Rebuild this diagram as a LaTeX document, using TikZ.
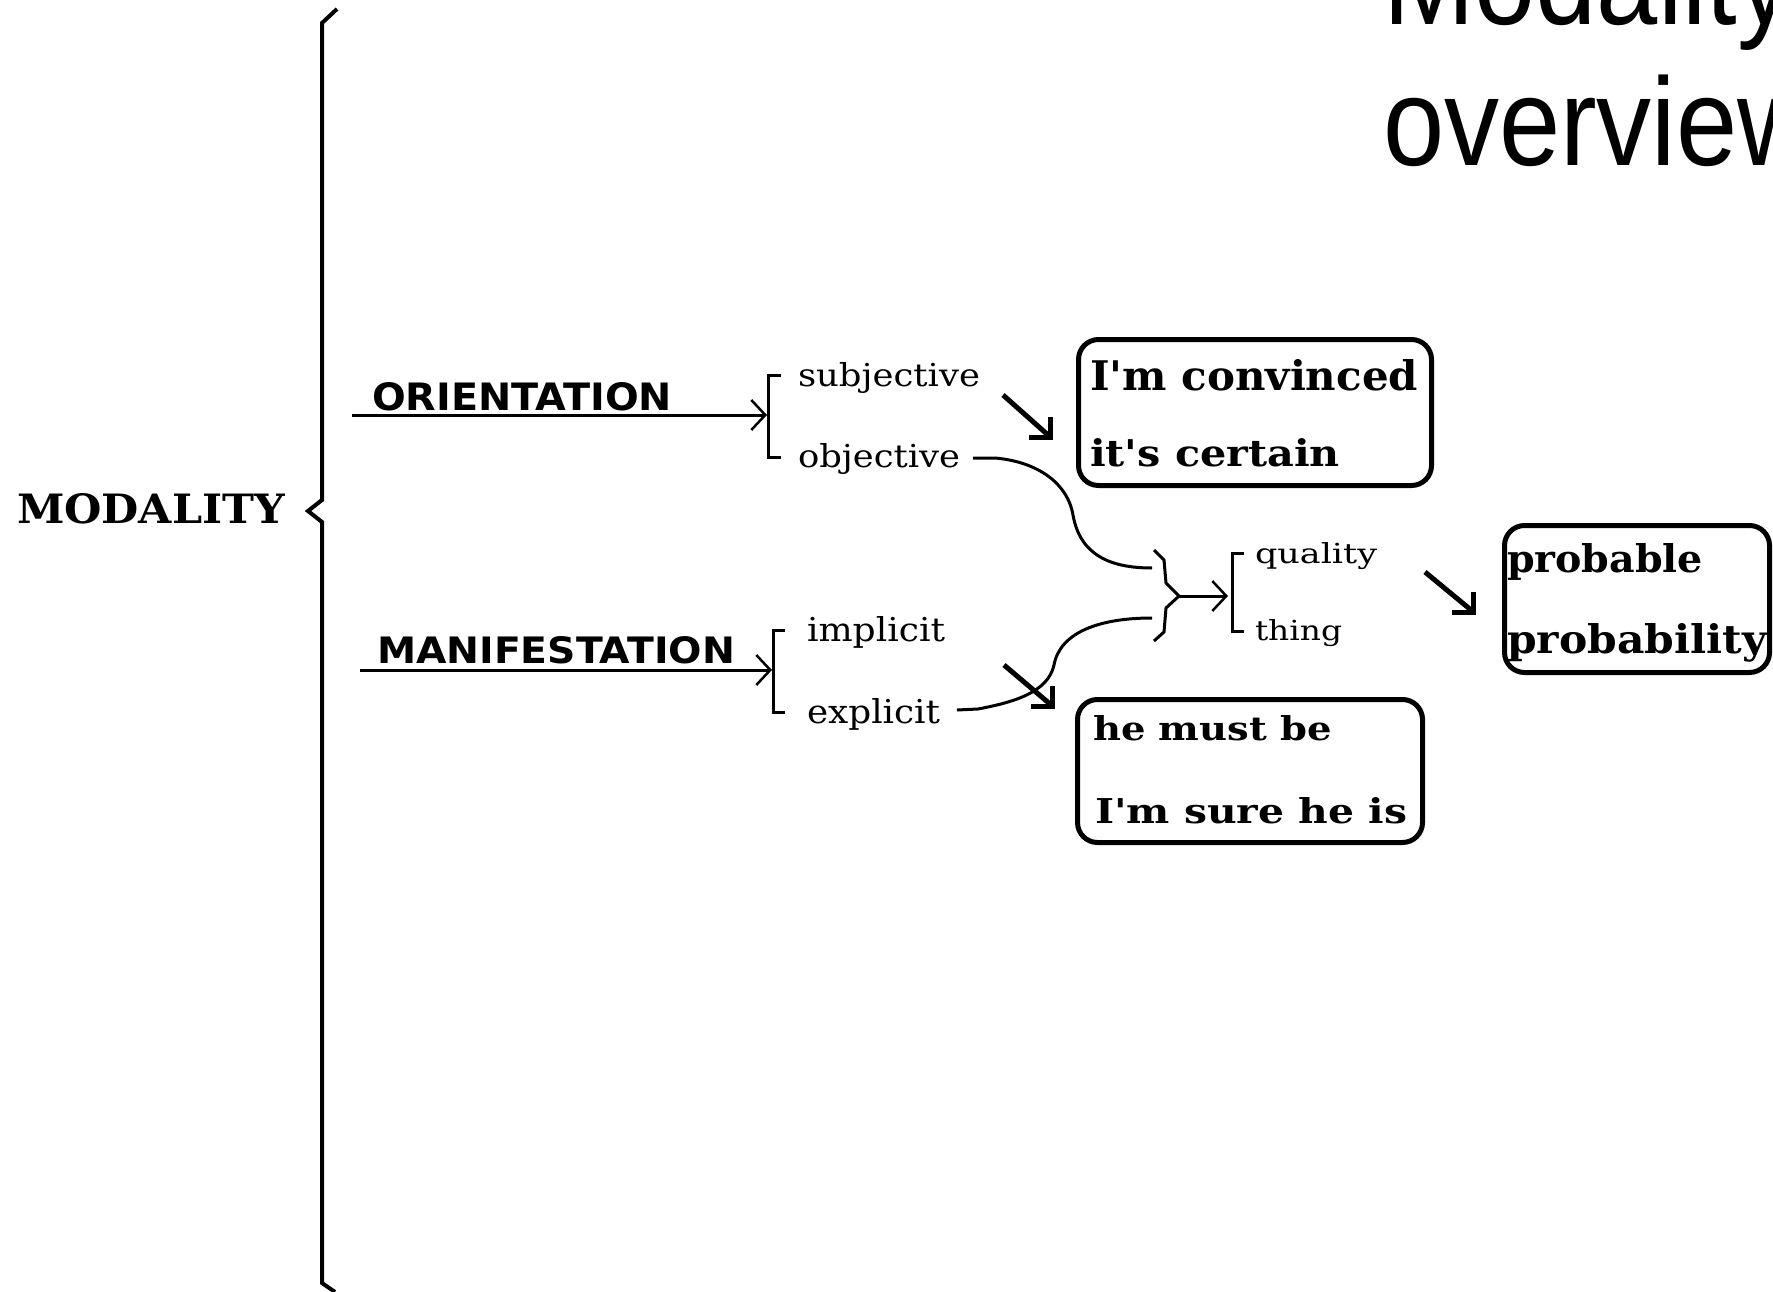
\documentclass[tikz,border=0pt]{standalone}
\usepackage{fontspec}
\usepackage{graphicx}
\usetikzlibrary{arrows.meta,calc}
\newfontfamily\titlefont{Liberation Sans}
\newfontfamily\seriffont{DejaVu Serif}
\newfontfamily\sansfont{DejaVu Sans}
\newcommand\fitt[3]{\resizebox{#1pt}{#2pt}{#3}}
\begin{document}
\begin{tikzpicture}[x=1pt,y=-1pt,
  lbl/.style={anchor=base west, inner sep=0pt, outer sep=0pt},
  thinline/.style={line width=3pt},
  thinarrow/.style={line width=3pt, -{Straight Barb[length=14pt,width=30pt,line width=2.5pt]}},
  heavyline/.style={line width=5pt},
  bracestyle/.style={line width=4pt, line join=miter},
  roundbox/.style={draw, line width=5pt, rounded corners=20pt, inner sep=0pt},
]
\fill[white] (0,0) rectangle (1773,1292);
\useasboundingbox (0,0) rectangle (1773,1292);

% title
\node[lbl] (title1) at (1383,25) {\scalebox{0.88}[1]{\titlefont\fontsize{125}{125}\selectfont Modality}};
\node[lbl] (title2) at (1383,166) {\scalebox{0.88}[1]{\titlefont\fontsize{125}{125}\selectfont overview}};

% labels
\node[lbl] (modality) at (17,523) {\fitt{268}{30}{\seriffont\bfseries MODALITY}};
\node[lbl] (orientation) at (372,410) {\fitt{300}{28}{\sansfont\bfseries ORIENTATION}};
\node[lbl] (manifestation) at (377,663) {\fitt{358}{27}{\sansfont\bfseries MANIFESTATION}};
\node[lbl] (subjective) at (798,386) {\fitt{182}{24}{\seriffont subjective}};
\node[lbl] (objective) at (798,467) {\fitt{162}{24}{\seriffont objective}};
\node[lbl] (implicit) at (807,641) {\fitt{138}{25}{\seriffont implicit}};
\node[lbl] (explicit) at (807,723) {\fitt{133}{25}{\seriffont explicit}};
\node[lbl] (quality) at (1255,563) {\fitt{122}{21}{\seriffont quality}};
\node[lbl] (thing) at (1255,640) {\fitt{87}{21}{\seriffont thing}};

% boxes
\node[roundbox, minimum width=353pt, minimum height=146pt] (box1) at (1255,412.5) {};
\node[roundbox, minimum width=345pt, minimum height=143pt] (box2) at (1250,771) {};
\node[roundbox, minimum width=265pt, minimum height=147pt] (box3) at (1637,599) {};

\node[lbl] (b1a) at (1090,390) {\fitt{328}{31}{\seriffont\bfseries I'm convinced}};
\node[lbl] (b1b) at (1090,466) {\fitt{250}{28}{\seriffont\bfseries it's certain}};
\node[lbl] (b2a) at (1093,740) {\fitt{239}{25}{\seriffont\bfseries he must be}};
\node[lbl] (b2b) at (1095,823) {\fitt{312}{26}{\seriffont\bfseries I'm sure he is}};
\node[lbl] (b3a) at (1507,572) {\fitt{196}{29}{\seriffont\bfseries probable}};
\node[lbl] (b3b) at (1507,653) {\fitt{260}{30}{\seriffont\bfseries probability}};

% main brace
\coordinate (bracetop) at (337,9);
\coordinate (bracetip) at (308,511);
\coordinate (bracebot) at (335,1292);
\draw[bracestyle] (bracetop) -- (322,23) -- (322,500) -- (bracetip) -- (322,522) -- (322,1283) -- (bracebot);

% arrows to brackets
\coordinate (oristart) at (352,415);
\coordinate (oriend) at (767,415);
\coordinate (manstart) at (360,670);
\coordinate (manend) at (772,670);
\draw[thinarrow] (oristart) -- (oriend);
\draw[thinarrow] (manstart) -- (manend);

% small brackets
\draw[thinline] (781,375) -- (768,375) -- (768,457) -- (781,457);
\draw[thinline] (785,630) -- (773,630) -- (773,712) -- (785,712);
\draw[thinline] (1244,553) -- (1232,553) -- (1232,631) -- (1244,631);

% curves into the right brace
\coordinate (objdash) at (973,458);
\coordinate (expdash) at (957,710);
\coordinate (upend) at (1152,568);
\coordinate (lowend) at (1152,618);
\draw[thinline] (objdash) -- (995,458) .. controls (1040,462) and (1068,485) .. (1073,515)
  .. controls (1080,555) and (1110,568) .. (upend);
\draw[thinline] (expdash) -- (978,709) .. controls (1015,702) and (1048,692) .. (1054,665)
  .. controls (1060,632) and (1100,618) .. (lowend);

% right-facing brace
\coordinate (rbtip) at (1179,596);
\draw[bracestyle, line width=3pt] (1154,550) -- (1164,560) -- (1166,583) -- (rbtip) -- (1166,608) -- (1164,632) -- (1154,641);
\coordinate (rbend) at (1228,596);
\draw[thinarrow] (rbtip) -- (rbend);

% heavy diagonal arrows
\coordinate (s1) at (1003,395); \coordinate (e1) at (1050,437);
\coordinate (s2) at (1004,665); \coordinate (e2) at (1052,706);
\coordinate (s3) at (1425,572); \coordinate (e3) at (1473,612);
\foreach \s/\e in {s1/e1,s2/e2,s3/e3}{
  \draw[heavyline] (\s) -- ($(\e)+(-2,-2)$);
  \draw[heavyline, line join=miter] ($(\e)+(0,-20)$) -- (\e) -- ($(\e)+(-21,0)$);
}
\end{tikzpicture}
\end{document}
